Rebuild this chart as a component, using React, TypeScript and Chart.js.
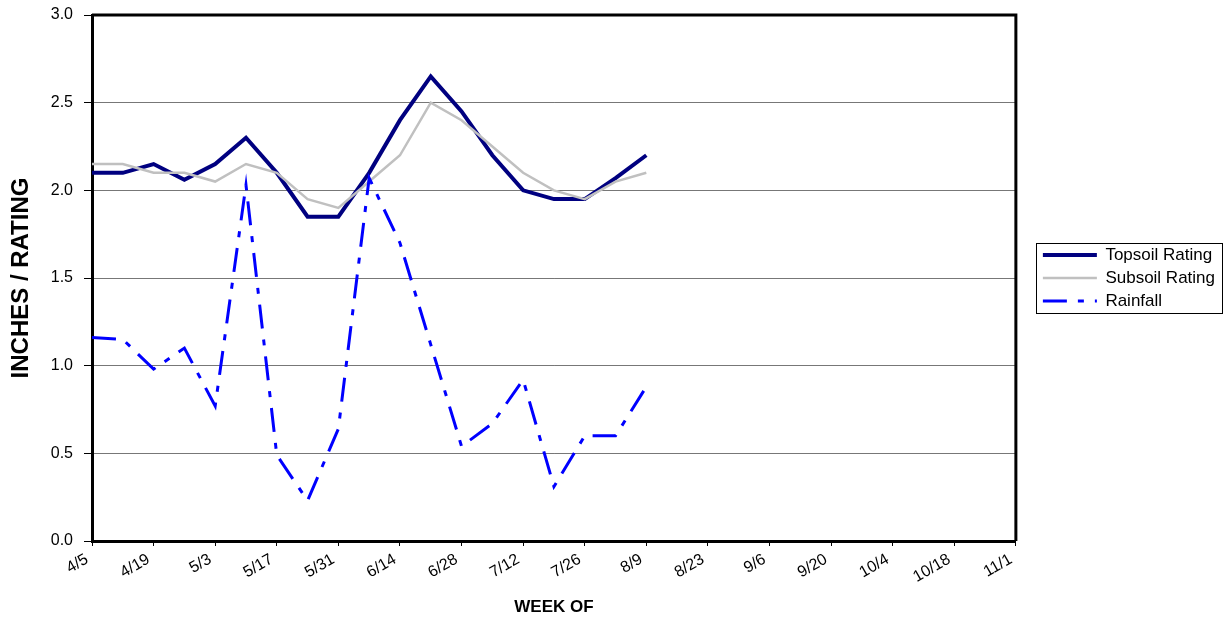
import React, { useEffect, useRef } from 'react';
import { Chart, registerables } from 'chart.js';

Chart.register(...registerables);

const FONT = '"Liberation Sans", Arial, Helvetica, sans-serif';

const weeks = [
  '4/5', '4/12', '4/19', '4/26', '5/3', '5/10', '5/17', '5/24', '5/31', '6/7',
  '6/14', '6/21', '6/28', '7/5', '7/12', '7/19', '7/26', '8/2', '8/9', '8/16',
  '8/23', '8/30', '9/6', '9/13', '9/20', '9/27', '10/4', '10/11', '10/18', '10/25', '11/1',
];

const topsoil = [2.1, 2.1, 2.15, 2.06, 2.15, 2.3, 2.1, 1.85, 1.85, 2.1, 2.4, 2.65, 2.45, 2.2, 2.0, 1.95, 1.95, 2.07, 2.2];
const subsoil = [2.15, 2.15, 2.1, 2.1, 2.05, 2.15, 2.1, 1.95, 1.9, 2.05, 2.2, 2.5, 2.4, 2.25, 2.1, 2.0, 1.95, 2.05, 2.1];
const rainfall = [1.16, 1.15, 0.98, 1.1, 0.77, 2.03, 0.49, 0.23, 0.64, 2.07, 1.7, 1.12, 0.54, 0.67, 0.92, 0.31, 0.6, 0.6, 0.88];

const yTicks = [0, 0.5, 1.0, 1.5, 2.0, 2.5, 3.0];

export default function App() {
  const ref = useRef<HTMLCanvasElement>(null);

  useEffect(() => {
    if (!ref.current) return;

    const framePlugin = {
      id: 'frame',
      beforeDatasetsDraw(chart: any) {
        const { ctx, chartArea: a } = chart;
        ctx.save();
        ctx.strokeStyle = '#000';
        ctx.lineWidth = 3;
        ctx.beginPath();
        ctx.moveTo(a.left, a.top);
        ctx.lineTo(a.right, a.top);
        ctx.lineTo(a.right, a.bottom);
        ctx.stroke();
        ctx.restore();
      },
    };

    const legendBoxPlugin = {
      id: 'legendBox',
      afterDraw(chart: any) {
        const lg = chart.legend;
        if (!lg || !lg.legendHitBoxes || !lg.legendHitBoxes.length) return;
        const hb = lg.legendHitBoxes;
        let l = Infinity, t = Infinity, r = -Infinity, b = -Infinity;
        hb.forEach((h: any) => {
          l = Math.min(l, h.left);
          t = Math.min(t, h.top);
          r = Math.max(r, h.left + h.width);
          b = Math.max(b, h.top + h.height);
        });
        const { ctx } = chart;
        ctx.save();
        ctx.strokeStyle = '#000';
        ctx.lineWidth = 1;
        const x0 = Math.round(l - 7) + 0.5;
        const y0 = Math.round(t - 4) + 0.5;
        const x1 = Math.round(r + 7) + 0.5;
        const y1 = Math.round(b + 3) + 0.5;
        ctx.strokeRect(x0, y0, x1 - x0, y1 - y0);
        ctx.restore();
      },
    };

    const baseGen = (Chart.defaults.plugins.legend.labels as any).generateLabels;

    const chart = new Chart(ref.current, {
      type: 'line',
      data: {
        labels: weeks,
        datasets: [
          {
            label: 'Topsoil Rating',
            data: topsoil,
            borderColor: '#000080',
            backgroundColor: '#000080',
            borderWidth: 4,
            pointRadius: 0,
            tension: 0,
            order: 2,
          },
          {
            label: 'Subsoil Rating',
            data: subsoil,
            borderColor: '#C0C0C0',
            backgroundColor: '#C0C0C0',
            borderWidth: 2.5,
            pointRadius: 0,
            tension: 0,
            order: 1,
          },
          {
            label: 'Rainfall',
            data: rainfall,
            borderColor: '#0000FF',
            backgroundColor: '#0000FF',
            borderWidth: 3,
            borderDash: [24, 11, 6, 11],
            pointRadius: 0,
            tension: 0,
            order: 0,
          },
        ],
      },
      options: {
        animation: false,
        responsive: true,
        maintainAspectRatio: false,
        layout: { padding: { left: 7, top: 15, right: 3, bottom: 0 } },
        plugins: {
          tooltip: { enabled: false },
          legend: {
            position: 'right',
            fullSize: false,
            labels: {
              usePointStyle: true,
              pointStyle: 'line',
              pointStyleWidth: 54,
              padding: 6,
              color: '#000',
              font: { family: FONT, size: 17 },
              sort: (a: any, b: any) => a.datasetIndex - b.datasetIndex,
              generateLabels: (c: any) =>
                baseGen(c).map((item: any) => {
                  const ds = c.data.datasets[item.datasetIndex];
                  return {
                    ...item,
                    lineDash: ds.borderDash || [],
                    lineWidth: ds.borderWidth,
                    strokeStyle: ds.borderColor,
                  };
                }),
            },
          },
        },
        scales: {
          x: {
            type: 'category',
            offset: false,
            grid: {
              drawOnChartArea: false,
              drawTicks: true,
              tickLength: 5,
              tickColor: (c: any) => (c.index % 2 === 0 ? '#000' : 'rgba(0,0,0,0)'),
            },
            border: { display: true, color: '#000', width: 3 },
            ticks: {
              autoSkip: false,
              maxRotation: 30,
              minRotation: 30,
              padding: 4,
              labelOffset: -5,
              color: '#000',
              font: { family: FONT, size: 16 },
              callback: (_v: any, i: number) => (i % 2 === 0 ? weeks[i] : ''),
            },
            title: {
              display: true,
              text: 'WEEK OF',
              color: '#000',
              font: { family: FONT, size: 17, weight: 'bold' },
              padding: { top: 0, bottom: 3 },
            },
            afterFit: (s: any) => { s.height = 80; },
          },
          y: {
            type: 'linear',
            position: 'left',
            min: 0,
            max: 3,
            afterBuildTicks: (s: any) => { s.ticks = yTicks.map((v) => ({ value: v })); },
            grid: {
              color: '#777',
              lineWidth: 1,
              tickLength: 8,
              tickColor: '#000',
            },
            border: { display: true, color: '#000', width: 3 },
            ticks: {
              padding: 11,
              color: '#000',
              font: { family: FONT, size: 16 },
              callback: (v: any) => Number(v).toFixed(1),
            },
            title: {
              display: true,
              text: 'INCHES / RATING',
              color: '#000',
              font: { family: FONT, size: 24, weight: 'bold' },
              padding: 0,
            },
            afterFit: (s: any) => {
              s.width = 85;
              s.paddingTop = 8;
              s.paddingBottom = 8;
            },
          },
          y2: {
            type: 'linear',
            position: 'right',
            display: true,
            grid: { display: false, drawTicks: false },
            border: { display: false },
            ticks: { display: false },
            afterFit: (s: any) => { s.width = 21; },
          },
        },
      },
      plugins: [framePlugin, legendBoxPlugin],
    });

    return () => chart.destroy();
  }, []);

  return (
    <div style={{ position: 'absolute', left: 0, top: 0, width: 1228, height: 621, background: '#fff' }}>
      <canvas ref={ref} />
    </div>
  );
}
